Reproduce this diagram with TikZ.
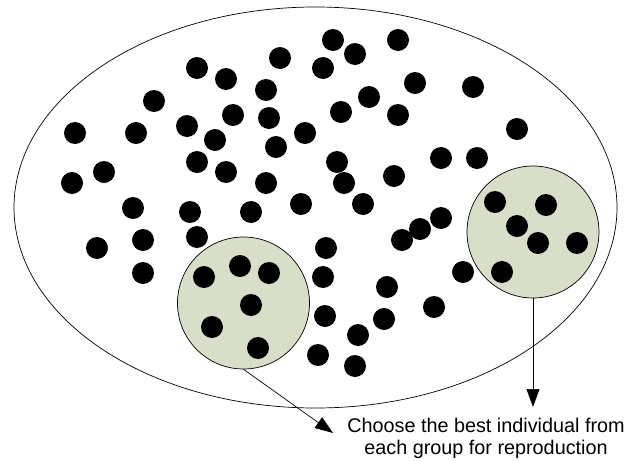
\documentclass[tikz,border=0pt]{standalone}
\usepackage{fontspec}
\setmainfont{Liberation Sans}
\usepackage{xcolor}
\usetikzlibrary{shapes.geometric,arrows.meta}
\definecolor{groupfill}{RGB}{216,222,200}
\tikzset{
  dot/.style={circle, fill=black, inner sep=0pt, minimum size=22pt},
  group/.style={circle, draw=black, line width=0.7pt, fill=groupfill, inner sep=0pt, minimum size=132pt},
  pick/.style={line width=0.7pt, -{Triangle[length=18pt,width=13pt]}}
}

\begin{document}
\begin{tikzpicture}[x=1pt,y=-1pt]
\useasboundingbox (0,0) rectangle (630,461);
\node[draw, ellipse, line width=0.7pt, inner sep=0pt, minimum width=603pt, minimum height=401pt] (pop) at (315.5,207.5) {};
\node[group] (grpL) at (243.5,303) {};
\node[group] (grpR) at (533,232) {};
% population outside the groups
\node[dot] (p1) at (333,40) {};
\node[dot] (p2) at (398,40) {};
\node[dot] (p3) at (355,54) {};
\node[dot] (p4) at (280,58) {};
\node[dot] (p5) at (197,68) {};
\node[dot] (p6) at (323,68) {};
\node[dot] (p7) at (226,79) {};
\node[dot] (p8) at (415,83) {};
\node[dot] (p9) at (473,87) {};
\node[dot] (p10) at (266,90) {};
\node[dot] (p11) at (369,97) {};
\node[dot] (p12) at (154,101) {};
\node[dot] (p13) at (341,112) {};
\node[dot] (p14) at (233,115) {};
\node[dot] (p15) at (398,115) {};
\node[dot] (p16) at (269,118) {};
\node[dot] (p17) at (187,126) {};
\node[dot] (p18) at (75,133) {};
\node[dot] (p19) at (136,133) {};
\node[dot] (p20) at (305,133) {};
\node[dot] (p21) at (517,129) {};
\node[dot] (p22) at (215,140) {};
\node[dot] (p23) at (276,147) {};
\node[dot] (p24) at (197,162) {};
\node[dot] (p25) at (337,162) {};
\node[dot] (p26) at (441,158) {};
\node[dot] (p27) at (477,158) {};
\node[dot] (p28) at (226,172) {};
\node[dot] (p29) at (104,172) {};
\node[dot] (p30) at (394,176) {};
\node[dot] (p31) at (72,183) {};
\node[dot] (p32) at (266,183) {};
\node[dot] (p33) at (344,183) {};
\node[dot] (p34) at (301,204) {};
\node[dot] (p35) at (363,204) {};
\node[dot] (p36) at (133,208) {};
\node[dot] (p37) at (190,212) {};
\node[dot] (p38) at (251,212) {};
\node[dot] (p39) at (441,218) {};
\node[dot] (p40) at (420,229) {};
\node[dot] (p41) at (402,240) {};
\node[dot] (p42) at (143,240) {};
\node[dot] (p43) at (197,237) {};
\node[dot] (p44) at (97,248) {};
\node[dot] (p45) at (326,248) {};
\node[dot] (p46) at (143,273) {};
\node[dot] (p47) at (463,272) {};
\node[dot] (p48) at (323,277) {};
\node[dot] (p49) at (387,287) {};
\node[dot] (p50) at (434,307) {};
\node[dot] (p51) at (325,316) {};
\node[dot] (p52) at (384,319) {};
\node[dot] (p53) at (358,335) {};
\node[dot] (p54) at (318,355) {};
\node[dot] (p55) at (355,366) {};
% left group
\node[dot] (l1) at (240,266) {};
\node[dot] (l2) at (204,277) {};
\node[dot] (l3) at (269,273) {};
\node[dot] (l4) at (251,305) {};
\node[dot] (l5) at (212,327) {};
\node[dot] (l6) at (258,348) {};
% right group
\node[dot] (r1) at (495,202) {};
\node[dot] (r2) at (546,205) {};
\node[dot] (r3) at (517,226) {};
\node[dot] (r4) at (538,243) {};
\node[dot] (r5) at (577,243) {};
\node[dot] (r6) at (502,272) {};
% label and arrows
\node[anchor=north, inner sep=0pt, align=center, font=\fontsize{19.8}{21.5}\selectfont] (txt) at (486,418) {Choose the best individual from\\each group for reproduction};
\coordinate (tipL) at (333,433);
\coordinate (tipR) at (533,407);
\draw[pick] (grpL.south) -- (tipL);
\draw[pick] (grpR.south) -- (tipR);
\end{tikzpicture}
\end{document}
